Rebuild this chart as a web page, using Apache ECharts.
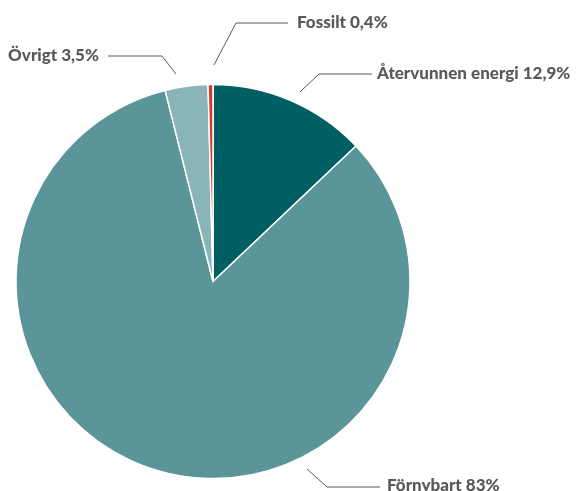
<!DOCTYPE html>
<html>
<head>
<meta charset="utf-8">
<script src="https://cdn.jsdelivr.net/npm/echarts@6/dist/echarts.min.js"></script>
<style>
html,body{margin:0;padding:0;background:#fff;}
#c{width:577px;height:491px;}
</style>
</head>
<body>
<div id="c"></div>
<script>
const categories = ['Återvunnen energi', 'Förnybart', 'Övrigt', 'Fossilt'];
const values = [12.9, 83, 3.5, 0.4];
const valueLabels = ['12,9%', '83%', '3,5%', '0,4%'];
const colors = ['#005F63', '#5A9599', '#8AB5B8', '#D9382A'];

// label placement (text anchor + leader line start), layout only
const labelPlacement = [
  { x: 377, y: 74, align: 'left',  line: [[300, 92], [319, 74], [372, 74]] },
  { x: 387, y: 486, align: 'left', line: [[307, 469], [327, 487], [380, 487]] },
  { x: 99,  y: 56, align: 'right', line: [[176, 74], [162, 56], [108, 56]] },
  { x: 297, y: 23, align: 'left',  line: [[214, 65], [236, 23], [288, 23]] }
];

const chart = echarts.init(document.getElementById('c'));
chart.setOption({
  animation: false,
  series: [{
    type: 'pie',
    center: [213, 281.5],
    radius: [0, 197],
    startAngle: 90,
    clockwise: true,
    itemStyle: { borderColor: '#ffffff', borderWidth: 1.5 },
    label: {
      show: true,
      color: '#595959',
      fontFamily: 'Lato',
      fontWeight: 900,
      fontSize: 17,
      overflow: 'none',
      formatter: function (p) { return p.name + ' ' + valueLabels[p.dataIndex]; }
    },
    labelLine: { show: true, lineStyle: { color: '#595959', width: 1 } },
    labelLayout: function (params) {
      const p = labelPlacement[params.dataIndex];
      return { x: p.x, y: p.y, align: p.align, verticalAlign: 'middle', labelLinePoints: p.line };
    },
    data: categories.map(function (c, i) {
      return { name: c, value: values[i], itemStyle: { color: colors[i] } };
    })
  }]
});
</script>
</body>
</html>
